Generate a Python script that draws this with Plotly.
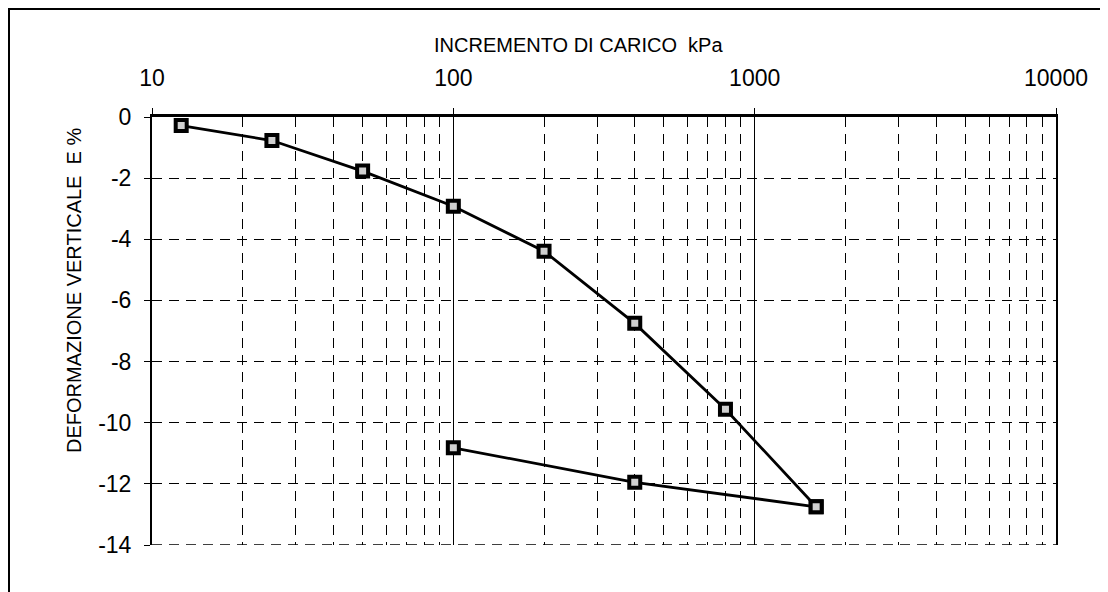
import plotly.graph_objects as go

# Data (load in kPa, vertical strain %)
load_x = [12.5, 25, 50, 100, 200, 400, 800, 1600]
load_y = [-0.28, -0.77, -1.77, -2.92, -4.39, -6.75, -9.56, -12.75]
unload_x = [1600, 400, 100]
unload_y = [-12.75, -11.95, -10.82]

x_ticks = [10, 100, 1000, 10000]
y_ticks = [0, -2, -4, -6, -8, -10, -12, -14]

x_title = "INCREMENTO DI CARICO  kPa"
y_title = "DEFORMAZIONE VERTICALE  E %"

FONT = "Arial, Liberation Sans, sans-serif"

marker = dict(symbol="square", size=11, color="#d0d0d0",
              line=dict(color="black", width=4))

fig = go.Figure()
fig.add_trace(go.Scatter(x=load_x, y=load_y, mode="lines+markers",
                         line=dict(color="black", width=2.8), marker=marker,
                         showlegend=False))
fig.add_trace(go.Scatter(x=unload_x, y=unload_y, mode="lines+markers",
                         line=dict(color="black", width=2.8), marker=marker,
                         showlegend=False))

W, H = 1100, 584
L, T = 144, 109
PW, PH = 904, 428
B = H - T - PH


def px(xf):
    return (xf - L) / PW


def py(yf):
    return (T + PH - yf) / PH


fig.update_layout(
    width=W, height=H,
    margin=dict(l=L, r=W - L - PW, t=T, b=B),
    paper_bgcolor="white", plot_bgcolor="white",
    font=dict(family=FONT, color="black"),
    xaxis=dict(
        type="log", side="top", range=[1, 4],
        tickvals=x_ticks, ticktext=[str(v) for v in x_ticks],
        tickfont=dict(size=23),
        ticks="outside", ticklen=6, tickcolor="black",
        ticklabelstandoff=13,
        showgrid=True, gridcolor="black", gridwidth=1.3,
        minor=dict(dtick="D1", showgrid=True, gridcolor="black",
                   griddash="10px,7px", gridwidth=1.3),
        showline=True, linecolor="black", linewidth=2.5,
        zeroline=False,
    ),
    yaxis=dict(
        range=[-14, 0], tickvals=y_ticks, ticktext=[str(v) for v in y_ticks],
        tickfont=dict(size=23),
        ticks="outside", ticklen=6, tickcolor="black",
        ticklabelstandoff=8,
        showgrid=True, gridcolor="black", griddash="10px,7px", gridwidth=1.3,
        showline=True, linecolor="black", linewidth=2, mirror=True,
        zeroline=False,
    ),
)

# axis titles (placed off-centre as in the original sheet)
fig.add_annotation(text=x_title, xref="paper", yref="paper",
                   x=px(570), y=py(37), showarrow=False,
                   xanchor="center", yanchor="middle", font=dict(size=20))
fig.add_annotation(text=y_title, xref="paper", yref="paper",
                   x=px(66), y=py(283), showarrow=False, textangle=-90,
                   xanchor="center", yanchor="middle", font=dict(size=20))

# dashed bottom grid line at the lowest tick
fig.add_shape(type="line", xref="paper", yref="y",
              x0=0, x1=1, y0=y_ticks[-1], y1=y_ticks[-1],
              line=dict(color="black", width=1.3, dash="10px,7px"))

# scanned page frame (top and left edges)
fig.add_shape(type="line", xref="paper", yref="paper",
              x0=px(0), x1=px(W), y0=py(1), y1=py(1),
              line=dict(color="black", width=2))
fig.add_shape(type="line", xref="paper", yref="paper",
              x0=px(1), x1=px(1), y0=py(H), y1=py(1),
              line=dict(color="black", width=2))

fig.write_html("out.html")
